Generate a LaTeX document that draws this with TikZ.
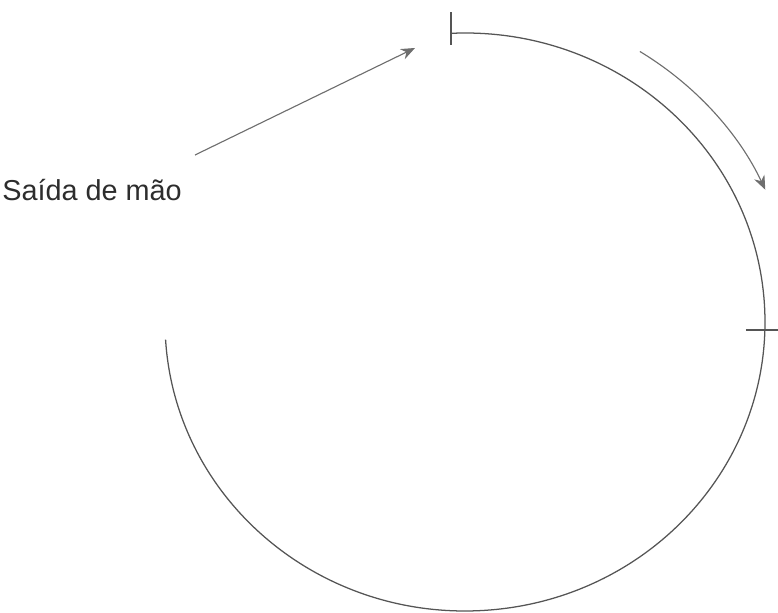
\documentclass[tikz,border=0pt]{standalone}
\usepackage{fontspec}
\setmainfont{Liberation Sans}
\usetikzlibrary{positioning,arrows.meta}
\definecolor{LineGray}{RGB}{85,85,85}
\definecolor{ArrowGray}{RGB}{110,110,110}
\definecolor{LabelText}{RGB}{45,45,45}

\begin{document}
\begin{tikzpicture}[
    x=0.025cm, y=0.025cm,
    circ/.style={draw=LineGray, line width=0.9pt},
    tickmark/.style={draw=LineGray, line width=0.9pt},
    flow/.style={draw=ArrowGray, line width=0.8pt, -{Stealth[length=10pt, width=8pt]}},
    label/.style={font=\fontsize{20.5}{24}\selectfont, text=LabelText, inner sep=0pt}
]
\useasboundingbox (0,0) rectangle (778,613);
\coordinate (c) at (465,291);
% track
\draw[circ] (c) ++(92.7:300 and 289) coordinate (start)
    arc[start angle=92.7, end angle=-176.5, x radius=300, y radius=289] coordinate (stop);
\draw[tickmark] (start) ++(0,21) -- ++(0,-33);
\draw[tickmark] (c) ++(-1.6:300 and 289) coordinate (mark) ++(-19,0) -- ++(32,0);
% direction
\draw[flow] (c) ++(58:330 and 319) arc[start angle=58, end angle=24.5, x radius=330, y radius=319];
% label
\node[label, anchor=base west] (saida) at (2,412) {Saída de mão};
\coordinate (from) at (195,458);
\coordinate (to) at (415,565);
\draw[flow] (from) -- (to);
\end{tikzpicture}
\end{document}
